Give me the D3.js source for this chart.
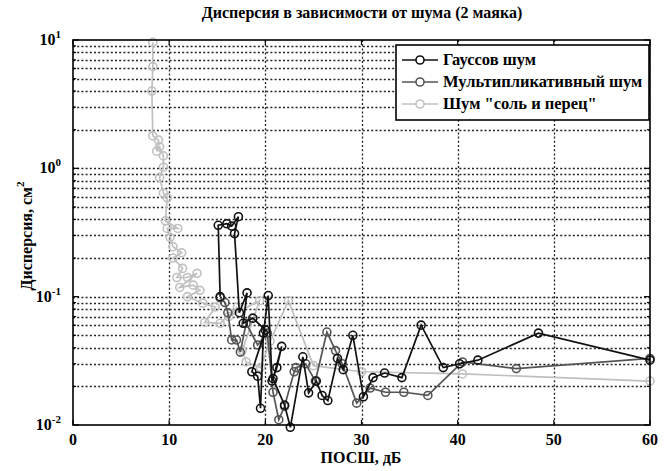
<!DOCTYPE html>
<html>
<head>
<meta charset="utf-8">
<script src="https://cdn.jsdelivr.net/npm/d3@7"></script>
<style>
  body { margin: 0; background: #fff; }
  svg text { font-family: "Liberation Serif", "DejaVu Serif", serif; font-weight: bold; }
</style>
</head>
<body>
<svg width="669" height="471"></svg>
<script>
// series as [ПОСШ дБ, дисперсия]
const gauss = [
  [15.3,0.10],[15.1,0.36],[16.0,0.37],[16.5,0.355],[17.2,0.42],[16.8,0.31],[17.3,0.075],
  [18.1,0.107],[17.7,0.062],[18.7,0.068],[20.0,0.055],[18.6,0.026],[19.2,0.024],[19.5,0.0135],
  [19.8,0.052],[20.3,0.102],[20.7,0.022],[21.2,0.028],[21.7,0.041],[20.8,0.023],[22.0,0.0143],
  [22.6,0.0096],[23.9,0.034],[24.5,0.0178],[25.3,0.022],[25.9,0.017],[26.5,0.0155],[27.5,0.033],
  [28.1,0.027],[29.1,0.05],[30.2,0.0166],[31.2,0.0234],[32.4,0.0254],[34.2,0.0234],[36.2,0.06],
  [38.5,0.028],[40.2,0.030],[42.1,0.032],[48.4,0.052],[60,0.032]
];
const mult = [
  [15.3,0.098],[15.8,0.09],[16.1,0.075],[16.5,0.046],[17.0,0.046],[17.4,0.037],[18.0,0.062],
  [19.2,0.042],[20.2,0.052],[20.8,0.018],[21.4,0.011],[22.0,0.014],[23.0,0.026],[23.2,0.028],
  [24.2,0.030],[25.2,0.022],[26.4,0.053],[27.3,0.038],[28.0,0.030],[29.5,0.0148],[30.9,0.0194],
  [32.5,0.018],[34.4,0.018],[36.9,0.017],[40.5,0.031],[46.1,0.0275],[60,0.033]
];
const saltPepper = [
  [8.3,9.6],[8.3,6.2],[8.2,4.0],[8.3,1.79],[8.9,1.66],[8.7,1.36],[9.0,1.47],[9.4,1.25],[9.4,1.02],
  [9.0,0.85],[9.4,0.64],[9.8,0.59],[9.6,0.39],[10.9,0.34],[9.8,0.34],[10.1,0.29],[10.4,0.245],
  [11.3,0.22],[10.4,0.20],[11.4,0.166],[10.8,0.141],[11.9,0.141],[12.9,0.152],[11.1,0.118],
  [12.5,0.123],[13.2,0.112],[11.9,0.10],[13.5,0.089],[14.8,0.083],[13.7,0.063],[15.3,0.062],
  [17.1,0.083],[16.2,0.07],[19.4,0.093],[17.6,0.038],[18.0,0.031],[19.5,0.028],[20.5,0.045],
  [22.4,0.093],[25.0,0.029],[30.0,0.026],[40.5,0.025],[60,0.022]
];
const seriesNames = ['Гауссов шум', 'Мультипликативный шум', 'Шум "соль и перец"'];
const seriesColors = ['#111', '#555', '#c0c0c0'];
const xTicks = [0, 10, 20, 30, 40, 50, 60];
const yMajor = [0.01, 0.1, 1, 10];
const yExp = ['-2', '-1', '0', '1'];

const svg = d3.select('svg');
const L = 73, R = 650, T = 40, B = 425;

const x = d3.scaleLinear().domain([0, 60]).range([L, R]);
const y = d3.scaleLog().domain([0.01, 10]).range([B, T]);

// minor ticks for log axis
const yMinor = [];
[0.01, 0.1, 1].forEach(d => { for (let k = 2; k <= 9; k++) yMinor.push(d * k); });

// grid
const grid = svg.append('g').attr('stroke', '#222').attr('stroke-width', 1.3).attr('stroke-dasharray', '2,2.2');
grid.selectAll('.hg').data(yMinor.concat(yMajor.slice(1, 3))).enter().append('line')
  .attr('x1', L).attr('x2', R).attr('y1', d => Math.round(y(d)) + 0.5).attr('y2', d => Math.round(y(d)) + 0.5);
grid.selectAll('.vg').data(xTicks.slice(1, -1)).enter().append('line')
  .attr('y1', T).attr('y2', B).attr('x1', d => Math.round(x(d)) + 0.5).attr('x2', d => Math.round(x(d)) + 0.5);

// ticks inside
const tk = svg.append('g').attr('stroke', '#000').attr('stroke-width', 1.2);
xTicks.forEach(d => {
  tk.append('line').attr('x1', x(d)).attr('x2', x(d)).attr('y1', B).attr('y2', B - 5);
  tk.append('line').attr('x1', x(d)).attr('x2', x(d)).attr('y1', T).attr('y2', T + 5);
});
yMajor.concat(yMinor).forEach(d => {
  const len = yMajor.includes(d) ? 6 : 3;
  tk.append('line').attr('x1', L).attr('x2', L + len).attr('y1', y(d)).attr('y2', y(d));
  tk.append('line').attr('x1', R).attr('x2', R - len).attr('y1', y(d)).attr('y2', y(d));
});

// series (salt-pepper first, gaussian on top)
const line = d3.line().x(d => x(d[0])).y(d => y(d[1]));
[[saltPepper, 2], [mult, 1], [gauss, 0]].forEach(([s, i]) => {
  const g = svg.append('g');
  g.append('path').datum(s).attr('d', line).attr('fill', 'none')
    .attr('stroke', seriesColors[i]).attr('stroke-width', 1.7);
  g.selectAll('circle').data(s).enter().append('circle')
    .attr('cx', d => x(d[0])).attr('cy', d => y(d[1])).attr('r', 4)
    .attr('fill', 'none').attr('stroke', seriesColors[i]).attr('stroke-width', 1.6);
});

// frame
svg.append('rect').attr('x', L).attr('y', T).attr('width', R - L).attr('height', B - T)
  .attr('fill', 'none').attr('stroke', '#000').attr('stroke-width', 1.6);

// tick labels
svg.append('g').selectAll('text').data(xTicks).enter().append('text')
  .attr('x', d => x(d)).attr('y', B + 20).attr('text-anchor', 'middle')
  .attr('font-size', 16).text(d => d);
const yl = svg.append('g').selectAll('text').data(yMajor).enter().append('text')
  .attr('x', L - 12).attr('y', d => y(d) + 5).attr('text-anchor', 'end').attr('font-size', 16);
yl.append('tspan').text('10');
yl.append('tspan').attr('dy', -7).attr('font-size', 11).text((d, i) => yExp[i]);

// axis titles
svg.append('text').attr('x', 362).attr('y', 18).attr('text-anchor', 'middle')
  .attr('font-size', 16).text('Дисперсия в зависимости от шума (2 маяка)');
svg.append('text').attr('x', 361).attr('y', 463).attr('text-anchor', 'middle')
  .attr('font-size', 16).text('ПОСШ, дБ');
const ylab = svg.append('text').attr('transform', 'translate(32,236) rotate(-90)')
  .attr('text-anchor', 'middle').attr('font-size', 16);
ylab.append('tspan').text('Дисперсия, см');
ylab.append('tspan').attr('dy', -8).attr('font-size', 11).text('2');

// legend
const lg = svg.append('g');
lg.append('rect').attr('x', 396).attr('y', 45).attr('width', 253).attr('height', 75)
  .attr('fill', '#fff').attr('stroke', '#000').attr('stroke-width', 1.6);
seriesNames.forEach((n, i) => {
  const yy = 60 + i * 22;
  lg.append('line').attr('x1', 402).attr('x2', 438).attr('y1', yy).attr('y2', yy)
    .attr('stroke', seriesColors[i]).attr('stroke-width', 1.7);
  lg.append('circle').attr('cx', 420).attr('cy', yy).attr('r', 4).attr('fill', '#fff')
    .attr('stroke', seriesColors[i]).attr('stroke-width', 1.6);
  lg.append('text').attr('x', 443).attr('y', yy + 5).attr('font-size', 16.5).text(n);
});
</script>
</body>
</html>
